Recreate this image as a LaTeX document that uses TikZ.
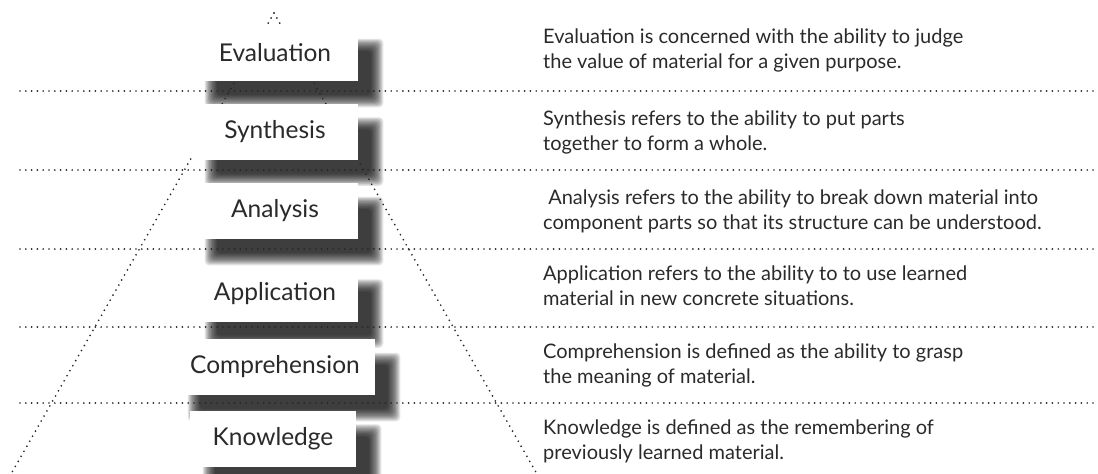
\documentclass[tikz,border=0pt]{standalone}
\usepackage{fontspec}
\setmainfont{Lato}
\usetikzlibrary{calc}
\pgfdeclarelayer{background}
\pgfsetlayers{background,main}
\definecolor{ink}{HTML}{2A2A2A}
\tikzset{
  dots/.style={line width=1.9pt, line cap=round, dash pattern=on 0pt off 5.8pt, black!85},
  level/.style={fill=white, minimum width=166pt, minimum height=56pt, inner sep=0pt,
    font=\fontsize{24.5}{28}\selectfont, text=ink},
  shadelayer/.style={fill=black, opacity=0.11, rounded corners=4pt},
  desc/.style={anchor=base west, align=left, inner sep=0pt,
    font=\fontsize{20}{25}\selectfont, text=ink},
}
\begin{document}
\begin{tikzpicture}[x=1pt,y=-1pt]
\useasboundingbox (0,0) rectangle (1098,474);
% pyramid
\coordinate (apex) at (274,13);
\coordinate (bl) at (11,474);
\coordinate (br) at (537,474);
\draw[dots] (apex) -- (bl);
\draw[dots] (apex) -- (br);
% separators
\foreach \y/\n in {91/a,170/b,249/c,327/d,403/e}{
  \coordinate (L\n) at (20,\y);
  \coordinate (R\n) at (1098,\y);
  \draw[dots] (L\n) -- (R\n);
}
% level boxes
\node[level] (ev) at (275,53) {Evaluation};
\node[level] (sy) at (275,131.5) {Synthesis};
\node[level] (an) at (275,211) {Analysis};
\node[level] (ap) at (275,293.5) {Application};
\node[level, minimum width=200pt] (co) at (275,367) {Comprehension};
\node[level] (kn) at (273,438.5) {Knowledge};
% soft drop shadows, beneath the dotted lines
\begin{pgfonlayer}{background}
\foreach \b in {ev,sy,an,ap,co,kn}{
  \foreach \k in {0,...,11}{
    \pgfmathsetmacro{\e}{(\k-5.5)*1.1}
    \fill[shadelayer] ($(\b.south west)+(19-\e,20+\e)$) rectangle ($(\b.north east)+(19+\e,20-\e)$);
  }
}
\end{pgfonlayer}
% descriptions (anchor = baseline of the last line)
\node[desc] (dev) at (543,68) {Evaluation is concerned with the ability to judge\\the value of material for a given purpose.};
\node[desc] (dsy) at (543,150) {Synthesis refers to the ability to put parts\\together to form a whole.};
\node[desc] (dan) at (543,229) {\ Analysis refers to the ability to break down material into\\component parts so that its structure can be understood.};
\node[desc] (dap) at (543,305) {Application refers to the ability to to use learned\\material in new concrete situations.};
\node[desc] (dco) at (543,383) {Comprehension is defined as the ability to grasp\\the meaning of material.};
\node[desc] (dkn) at (543,459) {Knowledge is defined as the remembering of\\previously learned material.};
\end{tikzpicture}
\end{document}
